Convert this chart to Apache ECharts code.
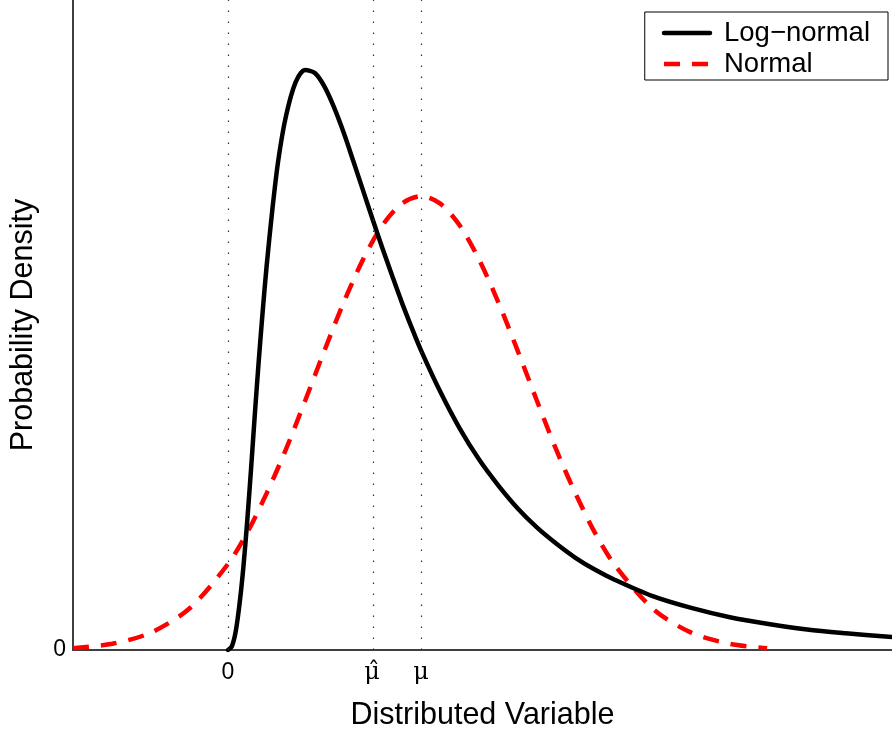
<!DOCTYPE html>
<html>
<head>
<meta charset="utf-8">
<script src="https://cdn.jsdelivr.net/npm/echarts@6/dist/echarts.min.js"></script>
<style>
  html, body { margin: 0; padding: 0; background: #fff; }
  #chart { width: 892px; height: 732px; }
</style>
</head>
<body>
<div id="chart"></div>
<script>
// Tick positions on the variable axis (0, median estimate, mean)
const tickValues = [0, 0.746, 1];
const tickLabels = ['0', 'μ\u0302', 'μ'];

// Log-normal density curve
const lognormalX = [0.000, 0.020, 0.040, 0.060, 0.080, 0.100, 0.120, 0.140, 0.160, 0.180,
  0.200, 0.230, 0.260, 0.300, 0.350, 0.400, 0.450, 0.500, 0.550, 0.600, 0.650, 0.700,
  0.750, 0.800, 0.850, 0.900, 0.950, 1.000, 1.100, 1.200, 1.300, 1.400, 1.500, 1.600,
  1.700, 1.800, 1.900, 2.000, 2.200, 2.400, 2.600, 2.800, 3.000, 3.200, 3.440];
const lognormalY = [0.000, 0.006, 0.030, 0.075, 0.135, 0.210, 0.295, 0.385, 0.470, 0.548,
  0.620, 0.712, 0.790, 0.862, 0.917, 0.937, 0.932, 0.910, 0.876, 0.835, 0.789, 0.742,
  0.695, 0.649, 0.605, 0.562, 0.522, 0.484, 0.417, 0.358, 0.308, 0.266, 0.229, 0.198,
  0.172, 0.149, 0.130, 0.114, 0.087, 0.068, 0.053, 0.042, 0.033, 0.027, 0.021];

// Normal density curve
const normalX = [-0.803, -0.600, -0.400, -0.200, 0.000, 0.100, 0.200, 0.300, 0.400, 0.500,
  0.600, 0.700, 0.800, 0.900, 1.000, 1.100, 1.200, 1.300, 1.400, 1.500, 1.600, 1.700,
  1.800, 1.900, 2.000, 2.200, 2.400, 2.600, 2.793];
const normalY = [0.003, 0.010, 0.028, 0.067, 0.139, 0.190, 0.253, 0.324, 0.403, 0.484,
  0.562, 0.631, 0.686, 0.721, 0.733, 0.721, 0.686, 0.631, 0.562, 0.484, 0.403, 0.324,
  0.253, 0.190, 0.139, 0.067, 0.028, 0.010, 0.003];

const zip = (xs, ys) => xs.map((x, i) => [x, ys[i]]);
const font = "'Liberation Sans', Arial, Helvetica, sans-serif";

const chart = echarts.init(document.getElementById('chart'), null, { renderer: 'canvas' });

chart.setOption({
  animation: false,
  backgroundColor: '#fff',
  grid: { left: 73, right: 0, top: 0, bottom: 82, containLabel: false, outerBoundsMode: 'none' },
  legend: {
    orient: 'vertical',
    right: 4,
    top: 12,
    padding: [7, 18, 2, 17],
    itemGap: 3,
    itemWidth: 46,
    itemHeight: 2,
    borderColor: '#000',
    borderWidth: 1,
    borderRadius: 0,
    backgroundColor: '#fff',
    itemStyle: { opacity: 0 },
    lineStyle: { width: 4.5 },
    textStyle: { fontFamily: font, fontSize: 27.5, lineHeight: 28, color: '#000', padding: [0, 0, 0, 9] },
    data: ['Log\u2212normal', 'Normal']
  },
  xAxis: {
    type: 'value',
    min: -0.803,
    max: 3.44,
    name: 'Distributed Variable',
    nameLocation: 'middle',
    nameGap: 50,
    nameTextStyle: { fontFamily: font, fontSize: 30.5, color: '#000' },
    axisLine: { show: true, onZero: false, lineStyle: { color: '#000', width: 1.5 } },
    axisTick: { show: false },
    splitLine: { show: false },
    axisLabel: {
      customValues: tickValues,
      margin: 11,
      fontFamily: font,
      fontSize: 23,
      color: '#000',
      formatter: (v) => {
        const i = tickValues.findIndex(t => Math.abs(t - v) < 1e-6);
        if (i < 0) return '';
        return i === 0 ? tickLabels[i] : '{g|' + tickLabels[i] + '}';
      },
      rich: {
        g: { fontFamily: "'DejaVu Serif', serif", fontSize: 24, color: '#000' }
      }
    }
  },
  yAxis: {
    type: 'value',
    min: 0,
    max: 1.05,
    name: 'Probability Density',
    nameLocation: 'middle',
    nameGap: 34,
    nameTextStyle: { fontFamily: font, fontSize: 30.5, color: '#000' },
    axisLine: { show: true, onZero: false, lineStyle: { color: '#000', width: 1.5 } },
    axisTick: { show: false },
    splitLine: { show: false },
    axisLabel: {
      customValues: [0],
      margin: 7,
      fontFamily: font,
      fontSize: 23,
      color: '#000',
      padding: [7, 0, 0, 0]
    }
  },
  series: [
    {
      // dotted reference lines at the labelled positions
      type: 'line',
      data: [],
      silent: true,
      z: 1,
      markLine: {
        silent: true,
        symbol: 'none',
        label: { show: false },
        lineStyle: { type: [1.5, 9.5], color: '#333', width: 1.2 },
        data: tickValues.map(v => ({ xAxis: v }))
      }
    },
    {
      name: 'Log\u2212normal',
      type: 'line',
      data: zip(lognormalX, lognormalY),
      symbol: 'none',
      smooth: 0.3,
      z: 3,
      lineStyle: { color: '#000', width: 4.5, cap: 'round', join: 'round' },
      itemStyle: { color: '#000' }
    },
    {
      name: 'Normal',
      type: 'line',
      data: zip(normalX, normalY),
      symbol: 'none',
      smooth: 0.3,
      z: 2,
      lineStyle: { color: '#ff0000', width: 4.5, type: [16, 12] },
      itemStyle: { color: '#ff0000' }
    }
  ]
});
</script>
</body>
</html>
